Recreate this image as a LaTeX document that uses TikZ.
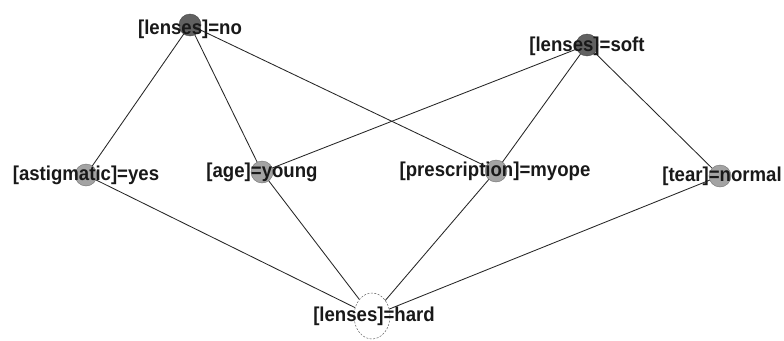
\documentclass[tikz,border=0pt]{standalone}
\usepackage{fontspec}
\setmainfont{Liberation Sans}
\usetikzlibrary{shapes.geometric,backgrounds}
\begin{document}
\begin{tikzpicture}[x=1pt,y=-1pt,
  dot/.style={circle,minimum size=22pt,inner sep=0pt,fill=gray!72,draw=gray!90!black,line width=0.4pt},
  darkdot/.style={circle,minimum size=22pt,inner sep=0pt,fill=black!62,draw=black!72,line width=0.4pt},
  harddot/.style={ellipse,minimum width=36pt,minimum height=46pt,inner sep=0pt,fill=white,draw=black!60,dash pattern=on 2pt off 1.5pt,line width=0.5pt},
  lbl/.style={font=\bfseries\fontsize{18.6}{20}\selectfont,inner sep=0pt,text=black!90,yscale=1.08,transform shape},
  edge/.style={draw=black!85,line width=0.85pt}]
\useasboundingbox (0,0) rectangle (784,340);
% circles
\node[darkdot] (no) at (190,25) {};
\node[darkdot] (soft) at (587,45) {};
\node[dot] (ast) at (86,175) {};
\node[dot] (age) at (262,172) {};
\node[dot] (pre) at (496,171) {};
\node[dot] (tear) at (720,176) {};
\node[harddot] (hard) at (372,316) {};
% edges
\begin{scope}[on background layer]
\fill[white] (0,0) rectangle (784,340);
\draw[edge] (no.center) -- (ast.center);
\draw[edge] (no.center) -- (age.center);
\draw[edge] (no.center) -- (pre.center);
\draw[edge] (soft.center) -- (age.center);
\draw[edge] (soft.center) -- (pre.center);
\draw[edge] (soft.center) -- (tear.center);
\draw[edge] (ast.center) -- (hard.center);
\draw[edge] (age.center) -- (hard.center);
\draw[edge] (pre.center) -- (hard.center);
\draw[edge] (tear.center) -- (hard.center);
\end{scope}
% labels
\node[lbl] (lno) at ([yshift=-4pt]no.center) {[lenses]=no};
\node[lbl] (lsoft) at ([yshift=-1pt]soft.center) {[lenses]=soft};
\node[lbl] (last) at (ast.center) {[astigmatic]=yes};
\node[lbl] (lage) at (age.center) {[age]=young};
\node[lbl] (lpre) at ([xshift=-1pt]pre.center) {[prescription]=myope};
\node[lbl] (ltear) at ([xshift=2pt]tear.center) {[tear]=normal};
\node[lbl] (lhard) at ([xshift=2pt]hard.center) {[lenses]=hard};
\end{tikzpicture}
\end{document}
